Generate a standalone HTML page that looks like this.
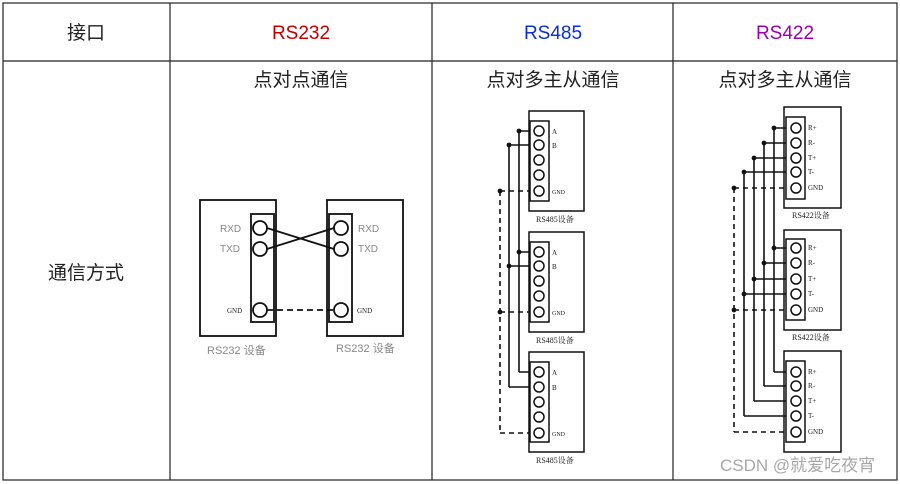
<!DOCTYPE html>
<html><head><meta charset="utf-8"><style>
html,body{margin:0;padding:0;background:#fff;}
svg{display:block;}
.t{font-family:"Liberation Sans","Noto Sans CJK SC",sans-serif;}
.s{font-family:"Liberation Serif","Noto Serif CJK SC",serif;font-size:7px;fill:#222;}
</style></head><body>
<svg width="900" height="484" viewBox="0 0 900 484" xmlns="http://www.w3.org/2000/svg">
<rect x="0" y="0" width="900" height="484" fill="#fff"/>
<g stroke="#222" stroke-width="1.2" fill="none">
<rect x="3" y="3" width="894" height="477"/>
<line x1="3" y1="61" x2="897" y2="61"/>
<line x1="170" y1="3" x2="170" y2="480"/>
<line x1="432" y1="3" x2="432" y2="480"/>
<line x1="673" y1="3" x2="673" y2="480"/>
</g>
<g class="t" font-size="19" text-anchor="middle">
<text x="86" y="39" fill="#222">接口</text>
<text x="301" y="39" fill="#c00000">RS232</text>
<text x="553" y="39" fill="#0a2fd8">RS485</text>
<text x="785" y="39" fill="#9a00b0">RS422</text>
<text x="301" y="86" fill="#222">点对点通信</text>
<text x="553" y="86" fill="#222">点对多主从通信</text>
<text x="785" y="86" fill="#222">点对多主从通信</text>
<text x="86" y="279" fill="#222">通信方式</text>
</g>
<!-- RS232 -->
<g stroke="#111" stroke-width="1.8" fill="#fff">
<rect x="200" y="200" width="76" height="136"/>
<rect x="251" y="214" width="23" height="108"/>
<rect x="327" y="200" width="76" height="136"/>
<rect x="329" y="214" width="23" height="108"/>
<line x1="267" y1="228" x2="334" y2="249"/>
<line x1="267" y1="249" x2="334" y2="228"/>
<line x1="267" y1="310" x2="334" y2="310" stroke-dasharray="6,4"/>
<circle cx="260" cy="228" r="7"/><circle cx="260" cy="249" r="7"/><circle cx="260" cy="310" r="7"/>
<circle cx="341" cy="228" r="7"/><circle cx="341" cy="249" r="7"/><circle cx="341" cy="310" r="7"/>
</g>
<g class="t" font-size="10" fill="#888">
<text x="220" y="232">RXD</text><text x="220" y="252">TXD</text>
<text x="358" y="232">RXD</text><text x="358" y="252">TXD</text>
<text x="207" y="354" font-size="11">RS232 设备</text><text x="336" y="352" font-size="11">RS232 设备</text>
</g>
<text class="s" x="227" y="313" font-size="8">GND</text><text class="s" x="357" y="313" font-size="8">GND</text>
<!-- RS485 -->
<g stroke="#111" stroke-width="1.6" fill="none">
<line x1="519" y1="131" x2="519" y2="372"/><line x1="509" y1="145" x2="509" y2="387"/>
<line x1="500" y1="191" x2="500" y2="433" stroke-dasharray="5,4"/>
<path d="M519 131H534M519 252H534M519 372H534M509 145H534M509 266H534M509 387H534"/>
<path d="M500 191H534M500 312H534M500 433H534" stroke-dasharray="5,4"/>
</g>
<g fill="#111"><circle cx="519" cy="131" r="2.4"/><circle cx="519" cy="252" r="2.4"/><circle cx="509" cy="145" r="2.4"/><circle cx="509" cy="266" r="2.4"/><circle cx="500" cy="191" r="2.4"/><circle cx="500" cy="312" r="2.4"/></g>
<g stroke="#111" stroke-width="1.5" fill="#fff">
<rect x="529" y="111" width="55" height="100" fill="none"/><rect x="530" y="121" width="19" height="80"/>
<circle cx="539" cy="131" r="5"/><circle cx="539" cy="145" r="5"/><circle cx="539" cy="160" r="5"/><circle cx="539" cy="175" r="5"/><circle cx="539" cy="191" r="5"/>
<rect x="529" y="232" width="55" height="100" fill="none"/><rect x="530" y="242" width="19" height="80"/>
<circle cx="539" cy="252" r="5"/><circle cx="539" cy="266" r="5"/><circle cx="539" cy="281" r="5"/><circle cx="539" cy="296" r="5"/><circle cx="539" cy="312" r="5"/>
<rect x="529" y="352" width="55" height="100" fill="none"/><rect x="530" y="362" width="19" height="80"/>
<circle cx="539" cy="372" r="5"/><circle cx="539" cy="387" r="5"/><circle cx="539" cy="402" r="5"/><circle cx="539" cy="417" r="5"/><circle cx="539" cy="433" r="5"/>
</g>
<g class="s">
<text x="552" y="134">A</text><text x="552" y="148">B</text><text x="552" y="194" font-size="6">GND</text>
<text x="552" y="255">A</text><text x="552" y="269">B</text><text x="552" y="315" font-size="6">GND</text>
<text x="552" y="375">A</text><text x="552" y="390">B</text><text x="552" y="436" font-size="6">GND</text>
<text x="536" y="222" font-size="8">RS485设备</text><text x="536" y="343" font-size="8">RS485设备</text><text x="536" y="463" font-size="8">RS485设备</text>
</g>
<!-- RS422 -->
<g stroke="#111" stroke-width="1.6" fill="none">
<line x1="774" y1="128" x2="774" y2="372"/><line x1="764" y1="143" x2="764" y2="386"/>
<line x1="754" y1="158" x2="754" y2="401"/><line x1="744" y1="172" x2="744" y2="416"/>
<line x1="734" y1="188" x2="734" y2="432" stroke-dasharray="5,4"/>
<path d="M774 128H791M774 248H791M774 372H791M764 143H791M764 263H791M764 386H791M754 158H791M754 279H791M754 401H791M744 172H791M744 294H791M744 416H791"/>
<path d="M734 188H791M734 310H791M734 432H791" stroke-dasharray="5,4"/>
</g>
<g fill="#111"><circle cx="774" cy="128" r="2.4"/><circle cx="774" cy="248" r="2.4"/><circle cx="764" cy="143" r="2.4"/><circle cx="764" cy="263" r="2.4"/><circle cx="754" cy="158" r="2.4"/><circle cx="754" cy="279" r="2.4"/><circle cx="744" cy="172" r="2.4"/><circle cx="744" cy="294" r="2.4"/><circle cx="734" cy="188" r="2.4"/><circle cx="734" cy="310" r="2.4"/></g>
<g stroke="#111" stroke-width="1.5" fill="#fff">
<rect x="784" y="107" width="57" height="101" fill="none"/><rect x="786" y="117" width="19" height="82"/>
<circle cx="796" cy="128" r="5"/><circle cx="796" cy="143" r="5"/><circle cx="796" cy="158" r="5"/><circle cx="796" cy="172" r="5"/><circle cx="796" cy="188" r="5"/>
<rect x="784" y="230" width="57" height="100" fill="none"/><rect x="786" y="239" width="19" height="81"/>
<circle cx="796" cy="248" r="5"/><circle cx="796" cy="263" r="5"/><circle cx="796" cy="279" r="5"/><circle cx="796" cy="294" r="5"/><circle cx="796" cy="310" r="5"/>
<rect x="784" y="351" width="57" height="101" fill="none"/><rect x="786" y="361" width="19" height="81"/>
<circle cx="796" cy="372" r="5"/><circle cx="796" cy="386" r="5"/><circle cx="796" cy="401" r="5"/><circle cx="796" cy="416" r="5"/><circle cx="796" cy="432" r="5"/>
</g>
<g class="s" font-size="6">
<text x="808" y="130">R+</text><text x="808" y="145">R-</text><text x="808" y="160">T+</text><text x="808" y="174">T-</text><text x="808" y="190">GND</text>
<text x="808" y="250">R+</text><text x="808" y="265">R-</text><text x="808" y="281">T+</text><text x="808" y="296">T-</text><text x="808" y="312">GND</text>
<text x="808" y="374">R+</text><text x="808" y="388">R-</text><text x="808" y="403">T+</text><text x="808" y="418">T-</text><text x="808" y="434">GND</text>
<text x="792" y="218" font-size="8">RS422设备</text><text x="792" y="340" font-size="8">RS422设备</text>
</g>
<text class="t" x="720" y="471" font-size="17" fill="#999" fill-opacity="0.85">CSDN @就爱吃夜宵</text>
</svg>
</body></html>
